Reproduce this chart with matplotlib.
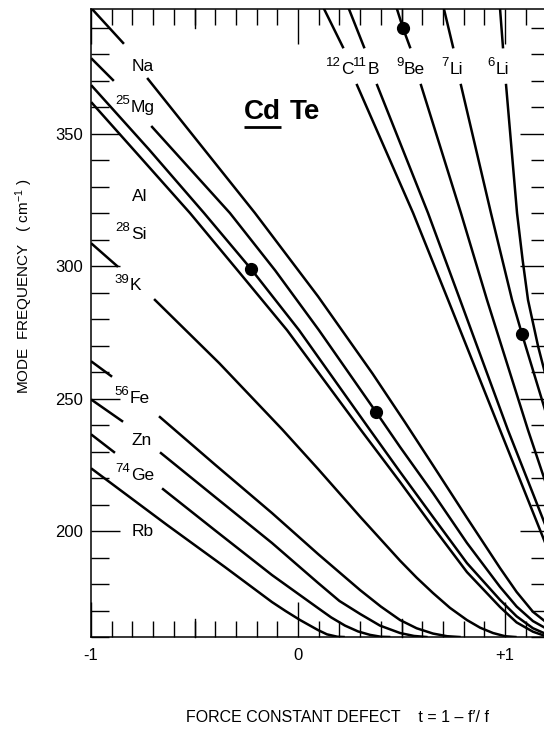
import numpy as np
import matplotlib
matplotlib.use("Agg")
import matplotlib.pyplot as plt
from matplotlib.transforms import blended_transform_factory

plt.rcParams['font.family'] = ['Liberation Sans', 'DejaVu Sans']
plt.rcParams['mathtext.fontset'] = 'custom'
plt.rcParams['mathtext.rm'] = 'Liberation Sans'
plt.rcParams['mathtext.it'] = 'Liberation Sans:italic'
plt.rcParams['mathtext.bf'] = 'Liberation Sans:bold'

nan = np.nan

# mode frequency (cm-1) against force constant defect t; nan leaves room for the label
na_t = [-0.995, -0.845, nan, -0.725, -0.208, 0.097, 0.360, 0.517, 0.652, 0.816, 0.976,
        1.056, 1.135, 1.208]
na_w = [397.0, 384.2, nan, 370.6, 320.0, 288.5, 259.4, 241.0, 224.8, 205.0, 186.0,
        177.0, 169.5, 165.0]

mg_t = [-0.995, -0.894, nan, -0.705, -0.329, -0.110, 0.101, 0.377, 0.493, 0.652, 0.816, 0.976,
        1.056, 1.135, 1.208]
mg_w = [378.1, 370.2, nan, 352.5, 320.0, 298.3, 275.8, 244.9, 231.7, 214.3, 195.5, 178.9,
        171.5, 166.0, 162.8]

al_t = [-0.995, -0.720, -0.454, -0.227, 0.005, 0.348, 0.493, 0.652, 0.816, 0.976, 1.056, 1.135,
        1.208]
al_w = [367.9, 344.0, 320.0, 298.9, 275.8, 238.1, 222.3, 205.3, 187.9, 174.0, 167.8, 163.3,
        160.8]

si_t = [-0.995, -0.760, -0.522, -0.290, -0.053, 0.304, 0.493, 0.652, 0.816, 0.976, 1.056, 1.135,
        1.190, 1.210]
si_w = [361.5, 340.9, 320.0, 298.2, 275.8, 238.1, 218.5, 201.5, 184.5, 171.3, 165.5, 162.0,
        160.5, 160.2]

k_t = [-0.995, -0.874, nan, -0.691, -0.380, -0.077, 0.097, 0.300, 0.493, 0.573, 0.652, 0.734,
       0.816, 0.880, 0.942, 1.000, 1.050]
k_w = [308.3, 300.0, nan, 287.2, 263.3, 238.4, 223.4, 205.4, 188.8, 182.4, 176.6, 171.0,
       166.4, 163.5, 161.5, 160.3, 160.0]

fe_t = [-0.995, -0.903, nan, -0.667, -0.400, -0.126, 0.097, 0.300, 0.400, 0.493, 0.573, 0.652,
        0.720, 0.780]
fe_w = [263.8, 258.5, nan, 243.0, 225.0, 206.8, 191.3, 177.7, 171.5, 166.4, 163.3, 161.3,
        160.3, 160.0]

zn_t = [-0.995, -0.850, nan, -0.662, -0.400, -0.126, 0.097, 0.200, 0.300, 0.396, 0.493, 0.560,
        0.620]
zn_w = [249.4, 241.5, nan, 229.4, 212.8, 195.5, 180.4, 173.6, 168.7, 164.3, 161.5, 160.4,
        160.0]

ge_t = [-0.995, -0.889, nan, -0.652, -0.400, -0.126, 0.097, 0.160, 0.227, 0.290, 0.348, 0.400,
        0.440]
ge_w = [236.2, 229.8, nan, 215.8, 200.2, 183.4, 170.9, 167.4, 164.3, 162.1, 160.8, 160.1,
        160.0]

rb_t = [-0.995, -0.633, -0.353, -0.126, -0.060, 0.010, 0.097, 0.140, 0.190, 0.220]
rb_w = [223.4, 202.3, 186.4, 173.2, 169.8, 166.4, 162.6, 161.0, 160.1, 160.0]

c_t = [0.126, 0.217, nan, 0.285, 0.556, 0.725, 0.976, 1.208]
c_w = [397.0, 382.6, nan, 368.3, 320.0, 287.2, 238.1, 192.8]

b_t = [0.246, 0.319, nan, 0.382, 0.628, 0.783, 1.014, 1.208]
b_w = [397.0, 382.6, nan, 368.3, 320.0, 287.2, 238.1, 199.6]

be_t = [0.478, 0.507, 0.541, nan, 0.594, 0.787, 0.913, 1.111, 1.208]
be_w = [397.0, 389.8, 382.6, nan, 368.3, 320.0, 287.2, 238.1, 215.5]

li7_t = [0.705, 0.749, nan, 0.787, 0.932, 1.034, 1.082, 1.208]
li7_w = [397.0, 382.6, nan, 368.3, 320.0, 287.2, 274.3, 241.9]

li6_t = [0.976, 0.990, nan, 1.005, 1.058, 1.085, 1.111, 1.160, 1.208]
li6_w = [397.0, 382.6, nan, 368.3, 320.0, 302.3, 287.2, 269.6, 255.1]

# observed local modes
obs_t = [-0.227, 0.377, 0.507, 1.082]
obs_w = [298.9, 244.9, 389.8, 274.3]

isotope_symbols = ['Na', 'Mg', 'Al', 'Si', 'K', 'Fe', 'Zn', 'Ge', 'Rb', 'C', 'B', 'Be', 'Li', 'Li']
isotope_masses = ['', '25', '', '28', '39', '56', '', '74', '', '12', '11', '9', '7', '6']

x_ticks = [-1, 0, 1]
x_tick_labels = ['-1', '0', '+1']
y_ticks = [200, 250, 300, 350]

curves = [(na_t, na_w), (mg_t, mg_w), (al_t, al_w), (si_t, si_w), (k_t, k_w),
          (fe_t, fe_w), (zn_t, zn_w), (ge_t, ge_w), (rb_t, rb_w),
          (c_t, c_w), (b_t, b_w), (be_t, be_w), (li7_t, li7_w), (li6_t, li6_w)]

fig = plt.figure(figsize=(5.44, 7.30), dpi=100)
ax = fig.add_axes([91 / 544, 93 / 730, 457.5 / 544, 628 / 730])

for t, w in curves:
    ax.plot(t, w, color='black', lw=1.8, solid_joinstyle='round')

ax.plot(obs_t, obs_w, 'o', color='black', ms=8.5, zorder=5)

ax.set_xlim(-1.0, 1.21)
ax.set_ylim(160, 397)

# symbol anchors (left edge, baseline); mass number sits raised just before the symbol
label_pos = [(-0.802, 373.6), (-0.807, 358.1), (-0.802, 324.6), (-0.807, 310.2),
             (-0.812, 290.9), (-0.812, 248.3), (-0.802, 232.5), (-0.807, 219.2),
             (-0.802, 198.1), (0.208, 372.5), (0.338, 372.5), (0.512, 372.5),
             (0.733, 372.5), (0.955, 372.5)]
for sym, mass, (x, y) in zip(isotope_symbols, isotope_masses, label_pos):
    ax.text(x, y, sym, fontsize=12.5, ha='left', va='baseline')
    if mass:
        ax.annotate(mass, xy=(x, y), xytext=(-0.5, 5.5), textcoords='offset points',
                    fontsize=9.5, ha='right', va='baseline')

# compound name, first half underlined
cd = ax.text(-0.261, 355.5, 'Cd', fontsize=20, fontweight='bold', ha='left', va='baseline')
te = ax.text(-0.042, 355.5, 'Te', fontsize=20, fontweight='bold', ha='left', va='baseline')
fig.canvas.draw()
bb = cd.get_window_extent().transformed(ax.transData.inverted())
ax.plot([bb.x0, bb.x1], [352.6, 352.6], color='black', lw=2.0, solid_capstyle='butt')

ax.set_xticks(x_ticks)
ax.set_xticklabels(x_tick_labels, fontsize=12)
ax.set_xticks(np.arange(-1.0, 1.21, 0.1), minor=True)
ax.set_yticks(y_ticks)
ax.set_yticklabels([str(v) for v in y_ticks], fontsize=12)
ax.set_yticks(np.arange(160, 397, 10), minor=True)

ax.tick_params(which='both', direction='in', top=True, right=True, width=1.0, color='black')
ax.tick_params(axis='x', which='major', length=25, pad=8)
ax.tick_params(axis='x', which='minor', length=11.5)
ax.tick_params(axis='y', which='major', length=21, pad=6)
ax.tick_params(axis='y', which='minor', length=13)

# half-unit ticks on the t axis are of middle length
trans = blended_transform_factory(ax.transData, ax.transAxes)
h = 18.5 / 628
for x in (-0.5, 0.5):
    ax.plot([x, x], [0, h], color='black', lw=1.0, transform=trans, clip_on=False)
    ax.plot([x, x], [1 - h, 1], color='black', lw=1.0, transform=trans, clip_on=False)

for s in ax.spines.values():
    s.set_linewidth(1.1)

fig.text(24 / 544, 1 - 286 / 730, 'MODE  FREQUENCY   ( cm$^{-1}$ )', rotation=90,
         ha='center', va='center', fontsize=11)
fig.text(337 / 544, 1 - 718 / 730, "FORCE CONSTANT DEFECT    t = 1 \u2013 f\u2032/ f",
         ha='center', va='center', fontsize=11.5)

fig.savefig('out.png', dpi=100, facecolor='white')
